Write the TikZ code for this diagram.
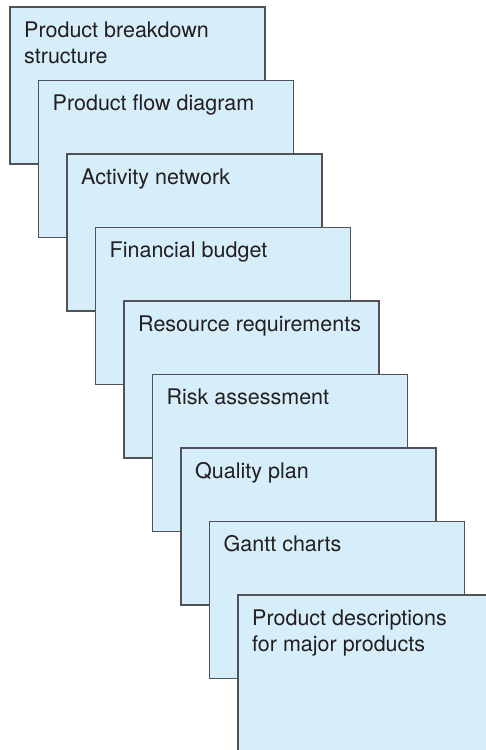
\documentclass[tikz,border=0pt]{standalone}
\usepackage{fontspec}
\setmainfont{TeX Gyre Heros}
\usetikzlibrary{calc}
\definecolor{cardfill}{HTML}{D6EDFA}
\definecolor{cardline}{HTML}{505257}
\definecolor{cardtext}{HTML}{231F20}
\newcommand{\twolines}[2]{\vtop{\hbox{#1}\hbox{#2}}}
\tikzset{
  card/.style={draw=cardline, fill=cardfill, line width=1.3pt, minimum width=255pt, minimum height=157pt, inner sep=0pt, outer sep=0pt, anchor=north west},
  cardlabel/.style={anchor=base west, inner sep=0pt, text=cardtext, font=\fontsize{21.5}{26.5}\selectfont}
}
\begin{document}
\begin{tikzpicture}[x=1pt,y=-1pt]
\useasboundingbox (0,0) rectangle (486,750);
\clip (0,0) rectangle (486,750);
\foreach \i/\txt in {0/{\twolines{Product breakdown}{structure}},1/{Product flow diagram},2/{Activity network},3/{Financial budget},4/{Resource requirements},5/{Risk assessment},6/{Quality plan},7/{Gantt charts},8/{\twolines{Product descriptions}{for major products}}}{
  \node[card] (c\i) at ({10+28.5*\i},{7+73.5*\i}) {};
  \node[cardlabel] (t\i) at ($(c\i.north west)+(14,30)$) {\txt};
}
\end{tikzpicture}
\end{document}
